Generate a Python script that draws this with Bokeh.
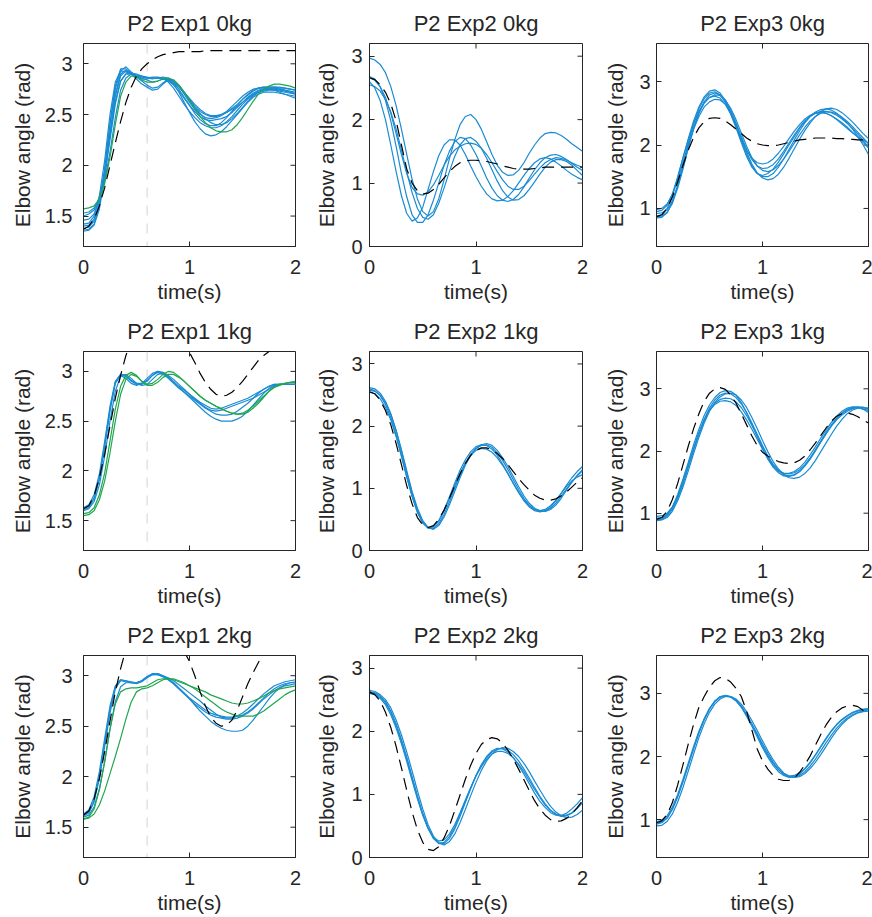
from bokeh.plotting import figure
from bokeh.layouts import column, row
from bokeh.models import Range1d, FixedTicker, Span
from bokeh.embed import file_html
from bokeh.resources import INLINE

# ---------------- data ----------------
time_s = [0.00, 0.05, 0.10, 0.15, 0.20, 0.25, 0.30, 0.35, 0.40, 0.45,
          0.50, 0.55, 0.60, 0.65, 0.70, 0.75, 0.80, 0.85, 0.90, 0.95,
          1.00, 1.05, 1.10, 1.15, 1.20, 1.25, 1.30, 1.35, 1.40, 1.45,
          1.50, 1.55, 1.60, 1.65, 1.70, 1.75, 1.80, 1.85, 1.90, 1.95,
          2.00]

panel_titles = ["P2 Exp1 0kg", "P2 Exp2 0kg", "P2 Exp3 0kg",
                "P2 Exp1 1kg", "P2 Exp2 1kg", "P2 Exp3 1kg",
                "P2 Exp1 2kg", "P2 Exp2 2kg", "P2 Exp3 2kg"]
x_label = "time(s)"
y_label = "Elbow angle (rad)"
x_limits = (0, 2)
x_ticks = [0, 1, 2]
x_tick_labels = ["0", "1", "2"]
y_limits = [(1.2, 3.2), (0.0, 3.2), (0.4, 3.6)]          # per experiment column
y_ticks = [[1.5, 2.0, 2.5, 3.0], [0, 1, 2, 3], [1, 2, 3]]
y_tick_labels = [["1.5", "2", "2.5", "3"], ["0", "1", "2", "3"], ["1", "2", "3"]]
event_time = 0.6   # grey dashed marker in Exp1 panels

# Exp1 0kg
exp1_0kg_blue = [
    [1.36,1.37,1.42,1.60,1.95,2.40,2.75,2.93,2.97,2.92, 2.88,2.86,2.84,2.82,2.83,2.85,2.84,2.80,2.72,2.62,
     2.52,2.43,2.36,2.31,2.29,2.30,2.33,2.38,2.44,2.50, 2.56,2.62,2.67,2.70,2.72,2.72,2.72,2.71,2.70,2.68, 2.66],
    [1.42,1.43,1.50,1.70,2.05,2.50,2.82,2.93,2.92,2.90, 2.88,2.87,2.86,2.87,2.87,2.86,2.82,2.76,2.68,2.60,
     2.53,2.47,2.42,2.39,2.37,2.37,2.39,2.43,2.48,2.54, 2.60,2.65,2.69,2.72,2.73,2.74,2.74,2.73,2.72,2.71, 2.70],
    [1.50,1.52,1.56,1.68,1.90,2.25,2.60,2.83,2.90,2.90, 2.87,2.83,2.79,2.76,2.77,2.81,2.85,2.84,2.79,2.72,
     2.65,2.58,2.53,2.50,2.48,2.48,2.50,2.53,2.58,2.63, 2.68,2.72,2.75,2.76,2.77,2.77,2.77,2.76,2.76,2.75, 2.74],
    [1.38,1.39,1.45,1.62,1.92,2.32,2.68,2.88,2.93,2.91, 2.89,2.88,2.87,2.86,2.86,2.86,2.85,2.81,2.75,2.67,
     2.59,2.51,2.45,2.41,2.39,2.39,2.42,2.47,2.53,2.59, 2.65,2.70,2.74,2.76,2.76,2.76,2.75,2.74,2.73,2.72, 2.71],
    [1.46,1.47,1.52,1.66,1.93,2.30,2.63,2.83,2.90,2.90, 2.87,2.85,2.85,2.86,2.86,2.85,2.83,2.79,2.73,2.66,
     2.59,2.53,2.48,2.45,2.44,2.45,2.46,2.48,2.52,2.57, 2.62,2.67,2.71,2.74,2.75,2.75,2.74,2.72,2.70,2.69, 2.68],
    [1.53,1.54,1.58,1.67,1.85,2.13,2.47,2.74,2.86,2.90, 2.90,2.88,2.86,2.85,2.86,2.87,2.86,2.83,2.78,2.71,
     2.64,2.57,2.51,2.46,2.42,2.40,2.40,2.42,2.46,2.51, 2.57,2.63,2.68,2.72,2.74,2.75,2.75,2.75,2.74,2.73, 2.72],
    [1.35,1.36,1.41,1.57,1.88,2.30,2.70,2.90,2.94,2.90, 2.85,2.80,2.77,2.74,2.75,2.80,2.84,2.83,2.78,2.70,
     2.62,2.55,2.50,2.47,2.46,2.47,2.49,2.52,2.55,2.58, 2.62,2.66,2.70,2.73,2.75,2.76,2.76,2.75,2.74,2.72, 2.70],
    [1.40,1.41,1.47,1.64,1.97,2.42,2.78,2.95,2.95,2.91, 2.88,2.87,2.86,2.86,2.86,2.85,2.84,2.81,2.77,2.72,
     2.66,2.60,2.55,2.51,2.49,2.49,2.50,2.52,2.56,2.60, 2.65,2.69,2.73,2.76,2.77,2.77,2.77,2.77,2.76,2.75, 2.74],
]
exp1_0kg_green = [
    [1.57,1.58,1.60,1.67,1.82,2.08,2.40,2.68,2.82,2.88, 2.87,2.84,2.82,2.82,2.83,2.85,2.86,2.84,2.79,2.72,
     2.64,2.56,2.48,2.42,2.37,2.34,2.33,2.33,2.35,2.40, 2.47,2.55,2.63,2.70,2.75,2.78,2.80,2.80,2.79,2.78, 2.76],
]
exp1_0kg_model = [1.37,1.40,1.47,1.60,1.78,2.00,2.22,2.43,2.62,2.77, 2.88,2.95,3.00,3.04,3.07,3.09,3.10,3.11,3.12,3.12,
                  3.12,3.12,3.12,3.13,3.13,3.13,3.13,3.13,3.13,3.13, 3.13,3.13,3.13,3.13,3.13,3.13,3.13,3.13,3.13,3.13, 3.13]

# Exp2 0kg
exp2_0kg_blue = [
    [2.60,2.50,2.30,2.00,1.60,1.18,0.80,0.52,0.40,0.45, 0.62,0.90,1.18,1.43,1.60,1.68,1.68,1.60,1.45,1.27,
     1.10,0.95,0.83,0.75,0.72,0.73,0.79,0.88,1.00,1.12, 1.23,1.32,1.38,1.40,1.38,1.33,1.27,1.20,1.14,1.09, 1.05],
    [2.68,2.64,2.52,2.30,1.98,1.58,1.15,0.78,0.50,0.38, 0.38,0.50,0.73,1.00,1.28,1.50,1.65,1.72,1.70,1.60,
     1.45,1.27,1.08,0.92,0.80,0.73,0.71,0.74,0.82,0.94, 1.08,1.21,1.32,1.40,1.44,1.45,1.42,1.37,1.31,1.25, 1.20],
    [2.97,2.94,2.87,2.74,2.52,2.22,1.85,1.45,1.06,0.75, 0.55,0.48,0.55,0.75,1.05,1.38,1.68,1.92,2.05,2.08,
     2.00,1.85,1.65,1.45,1.28,1.17,1.12,1.13,1.20,1.32, 1.47,1.60,1.71,1.78,1.80,1.79,1.75,1.69,1.62,1.56, 1.50],
    [2.66,2.62,2.52,2.35,2.10,1.78,1.45,1.15,0.93,0.83, 0.81,0.86,0.97,1.12,1.28,1.42,1.52,1.58,1.62,1.63,
     1.61,1.55,1.45,1.32,1.18,1.05,0.95,0.90,0.90,0.95, 1.04,1.14,1.24,1.32,1.37,1.40,1.39,1.36,1.32,1.28, 1.25],
    [2.55,2.52,2.45,2.32,2.12,1.85,1.52,1.17,0.85,0.60, 0.46,0.43,0.50,0.68,0.92,1.18,1.42,1.60,1.70,1.72,
     1.66,1.55,1.39,1.21,1.03,0.88,0.78,0.73,0.74,0.80, 0.90,1.02,1.14,1.25,1.33,1.37,1.37,1.34,1.28,1.20, 1.12],
]
exp2_0kg_model = [2.66,2.63,2.55,2.43,2.25,1.98,1.60,1.22,1.00,0.88, 0.83,0.84,0.90,0.98,1.08,1.18,1.26,1.32,1.35,1.36,
                  1.36,1.35,1.34,1.32,1.30,1.27,1.25,1.23,1.22,1.22, 1.22,1.23,1.24,1.25,1.25,1.25,1.25,1.25,1.25,1.25, 1.25]

# Exp3 0kg
exp3_0kg_blue = [
    [0.88,0.90,1.00,1.20,1.48,1.80,2.10,2.38,2.60,2.76, 2.85,2.87,2.82,2.70,2.52,2.30,2.07,1.85,1.67,1.55,
     1.50,1.50,1.55,1.65,1.78,1.93,2.08,2.22,2.35,2.45, 2.52,2.56,2.57,2.55,2.50,2.43,2.35,2.25,2.13,2.00, 1.85],
    [0.95,0.97,1.05,1.23,1.50,1.80,2.08,2.33,2.53,2.67, 2.75,2.77,2.74,2.64,2.49,2.30,2.10,1.92,1.79,1.72,
     1.70,1.72,1.78,1.87,1.98,2.10,2.22,2.32,2.41,2.47, 2.51,2.52,2.50,2.46,2.40,2.33,2.26,2.19,2.13,2.08, 2.03],
    [0.85,0.86,0.93,1.10,1.37,1.70,2.03,2.33,2.57,2.73, 2.82,2.84,2.79,2.67,2.49,2.27,2.04,1.82,1.65,1.55,
     1.52,1.55,1.62,1.73,1.86,2.00,2.13,2.26,2.37,2.45, 2.50,2.53,2.53,2.51,2.47,2.41,2.34,2.26,2.17,2.07, 1.97],
    [0.92,0.93,0.98,1.12,1.35,1.65,1.97,2.27,2.50,2.66, 2.75,2.79,2.78,2.71,2.58,2.40,2.19,1.98,1.80,1.67,
     1.60,1.58,1.61,1.68,1.78,1.90,2.03,2.16,2.28,2.38, 2.45,2.50,2.52,2.52,2.49,2.44,2.37,2.29,2.20,2.11, 2.02],
    [0.98,1.00,1.07,1.22,1.45,1.73,2.00,2.25,2.45,2.60, 2.68,2.72,2.71,2.64,2.51,2.33,2.13,1.93,1.77,1.67,
     1.63,1.64,1.69,1.78,1.90,2.03,2.16,2.28,2.38,2.46, 2.50,2.51,2.50,2.46,2.41,2.35,2.28,2.20,2.12,2.04, 1.95],
    [0.87,0.88,0.94,1.08,1.32,1.62,1.95,2.25,2.50,2.68, 2.79,2.82,2.79,2.70,2.55,2.35,2.12,1.89,1.70,1.56,
     1.48,1.45,1.47,1.54,1.65,1.79,1.94,2.09,2.23,2.35, 2.45,2.53,2.57,2.58,2.56,2.51,2.44,2.36,2.27,2.18, 2.10],
]
exp3_0kg_model = [0.87,0.90,1.00,1.18,1.42,1.68,1.92,2.12,2.27,2.37, 2.42,2.43,2.42,2.38,2.32,2.25,2.18,2.11,2.06,2.02,
                  2.00,1.99,1.99,2.00,2.02,2.04,2.06,2.08,2.09,2.10, 2.11,2.11,2.11,2.11,2.10,2.10,2.09,2.09,2.08,2.08, 2.08]

# Exp1 1kg
exp1_1kg_blue = [
    [1.63,1.66,1.76,1.97,2.30,2.65,2.90,2.97,2.95,2.90, 2.87,2.87,2.90,2.96,3.00,2.99,2.96,2.92,2.87,2.82,
     2.77,2.72,2.68,2.64,2.61,2.60,2.61,2.63,2.65,2.67, 2.69,2.71,2.73,2.76,2.79,2.82,2.85,2.87,2.87,2.87, 2.87],
    [1.61,1.63,1.72,1.92,2.24,2.60,2.88,2.96,2.93,2.88, 2.86,2.88,2.93,2.98,3.00,2.98,2.94,2.89,2.84,2.79,
     2.74,2.69,2.64,2.59,2.55,2.52,2.50,2.50,2.50,2.52, 2.55,2.60,2.66,2.72,2.78,2.83,2.86,2.87,2.87,2.87, 2.87],
    [1.62,1.64,1.73,1.93,2.26,2.62,2.89,2.97,2.96,2.91, 2.88,2.88,2.91,2.96,2.99,2.97,2.93,2.88,2.83,2.79,
     2.75,2.71,2.67,2.63,2.60,2.57,2.56,2.56,2.57,2.60, 2.64,2.68,2.73,2.78,2.82,2.85,2.87,2.87,2.87,2.87, 2.87],
    [1.60,1.62,1.69,1.86,2.15,2.50,2.80,2.95,2.97,2.93, 2.88,2.86,2.87,2.92,2.97,2.98,2.95,2.90,2.85,2.81,
     2.77,2.73,2.69,2.66,2.63,2.62,2.63,2.65,2.67,2.69, 2.71,2.73,2.76,2.79,2.82,2.85,2.87,2.87,2.87,2.87, 2.87],
]
exp1_1kg_green = [
    [1.57,1.58,1.63,1.76,1.98,2.30,2.62,2.85,2.96,2.99, 2.96,2.90,2.87,2.88,2.92,2.97,3.00,2.99,2.95,2.90,
     2.85,2.80,2.75,2.71,2.68,2.65,2.63,2.60,2.58,2.57, 2.57,2.59,2.63,2.68,2.74,2.80,2.84,2.87,2.88,2.89, 2.90],
    [1.55,1.56,1.60,1.71,1.90,2.18,2.50,2.77,2.92,2.97, 2.95,2.90,2.86,2.86,2.89,2.94,2.97,2.97,2.94,2.90,
     2.85,2.80,2.75,2.71,2.68,2.65,2.62,2.60,2.58,2.57, 2.58,2.61,2.65,2.70,2.75,2.80,2.84,2.86,2.88,2.89, 2.89],
]
exp1_1kg_model = [1.62,1.65,1.75,1.93,2.17,2.45,2.73,2.96,3.16,3.30, 3.42,3.50,3.55,3.56,3.54,3.50,3.44,3.38,3.31,3.25,
                  3.19,3.09,2.98,2.89,2.82,2.77,2.75,2.76,2.79,2.84, 2.90,2.97,3.04,3.11,3.16,3.20,3.24,3.27,3.30,3.32, 3.34]

# Exp2 1kg
exp2_1kg_blue = [
    [2.60,2.57,2.49,2.35,2.14,1.86,1.53,1.19,0.87,0.61, 0.44,0.36,0.38,0.48,0.65,0.86,1.08,1.29,1.46,1.59,
     1.67,1.70,1.69,1.63,1.53,1.39,1.24,1.08,0.93,0.80, 0.70,0.64,0.62,0.64,0.70,0.80,0.92,1.05,1.17,1.27, 1.35],
    [2.62,2.60,2.53,2.40,2.20,1.93,1.60,1.25,0.92,0.65, 0.46,0.36,0.35,0.43,0.58,0.78,1.00,1.21,1.40,1.55,
     1.64,1.69,1.70,1.66,1.57,1.45,1.30,1.14,0.98,0.84, 0.73,0.66,0.63,0.63,0.68,0.76,0.87,0.99,1.10,1.20, 1.28],
    [2.55,2.52,2.44,2.30,2.10,1.83,1.51,1.18,0.87,0.62, 0.45,0.37,0.38,0.47,0.63,0.83,1.04,1.24,1.41,1.53,
     1.61,1.64,1.63,1.58,1.49,1.37,1.23,1.08,0.94,0.81, 0.72,0.66,0.64,0.66,0.72,0.81,0.92,1.03,1.12,1.18, 1.22],
    [2.58,2.56,2.50,2.38,2.19,1.93,1.62,1.28,0.95,0.68, 0.48,0.37,0.34,0.40,0.54,0.73,0.95,1.17,1.37,1.53,
     1.64,1.70,1.72,1.69,1.61,1.49,1.35,1.19,1.03,0.88, 0.76,0.68,0.64,0.63,0.66,0.73,0.84,0.97,1.10,1.21, 1.30],
]
exp2_1kg_model = [2.55,2.52,2.42,2.25,2.02,1.72,1.38,1.04,0.75,0.53, 0.41,0.37,0.40,0.50,0.65,0.84,1.04,1.23,1.40,1.53,
                  1.61,1.65,1.65,1.62,1.56,1.48,1.38,1.27,1.16,1.06, 0.97,0.89,0.84,0.81,0.81,0.83,0.88,0.94,1.02,1.10, 1.17]

# Exp3 1kg
exp3_1kg_blue = [
    [0.90,0.91,0.97,1.10,1.30,1.55,1.82,2.10,2.35,2.57, 2.74,2.86,2.94,2.97,2.96,2.90,2.78,2.62,2.43,2.23,
     2.04,1.87,1.74,1.65,1.60,1.59,1.61,1.67,1.76,1.88, 2.02,2.16,2.30,2.42,2.53,2.61,2.67,2.70,2.71,2.70, 2.67],
    [0.95,0.96,1.00,1.10,1.27,1.50,1.77,2.04,2.29,2.50, 2.66,2.77,2.83,2.85,2.84,2.79,2.70,2.57,2.41,2.24,
     2.07,1.91,1.78,1.69,1.64,1.63,1.65,1.70,1.78,1.89, 2.02,2.15,2.28,2.40,2.50,2.58,2.64,2.68,2.70,2.70, 2.68],
    [0.88,0.89,0.93,1.03,1.20,1.42,1.68,1.96,2.22,2.45, 2.64,2.78,2.87,2.92,2.93,2.90,2.82,2.70,2.54,2.36,
     2.17,1.99,1.83,1.71,1.62,1.57,1.56,1.58,1.64,1.73, 1.85,1.99,2.13,2.27,2.40,2.51,2.60,2.66,2.69,2.70, 2.69],
    [0.92,0.93,0.98,1.09,1.27,1.50,1.76,2.03,2.28,2.49, 2.65,2.75,2.80,2.81,2.79,2.73,2.63,2.50,2.35,2.19,
     2.03,1.88,1.76,1.68,1.64,1.64,1.67,1.73,1.82,1.94, 2.07,2.21,2.34,2.46,2.56,2.64,2.69,2.71,2.70,2.67, 2.62],
    [0.89,0.90,0.95,1.06,1.24,1.47,1.74,2.02,2.28,2.51, 2.69,2.82,2.90,2.93,2.92,2.86,2.76,2.62,2.45,2.27,
     2.09,1.92,1.78,1.68,1.62,1.60,1.62,1.67,1.76,1.87, 2.00,2.14,2.28,2.41,2.52,2.60,2.66,2.69,2.70,2.68, 2.65],
]
exp3_1kg_model = [0.90,0.93,1.03,1.22,1.48,1.78,2.08,2.36,2.60,2.80, 2.93,3.00,3.02,2.99,2.90,2.77,2.60,2.42,2.24,2.09,
                  1.98,1.92,1.87,1.83,1.81,1.80,1.81,1.85,1.92,2.02, 2.13,2.25,2.37,2.48,2.56,2.60,2.61,2.59,2.55,2.50, 2.45]

# Exp1 2kg
exp1_2kg_blue = [
    [1.63,1.67,1.80,2.05,2.38,2.70,2.90,2.96,2.95,2.93, 2.93,2.95,2.99,3.02,3.02,3.00,2.98,2.95,2.91,2.87,
     2.83,2.79,2.75,2.70,2.66,2.62,2.59,2.58,2.58,2.60, 2.63,2.67,2.72,2.77,2.82,2.86,2.90,2.92,2.94,2.95, 2.96],
    [1.61,1.64,1.75,1.98,2.30,2.63,2.87,2.95,2.94,2.93, 2.92,2.94,2.98,3.01,3.01,2.99,2.96,2.92,2.87,2.82,
     2.77,2.71,2.65,2.60,2.55,2.51,2.48,2.46,2.45,2.45, 2.46,2.50,2.56,2.63,2.70,2.77,2.83,2.88,2.91,2.93, 2.94],
    [1.62,1.65,1.77,2.01,2.34,2.67,2.89,2.96,2.95,2.94, 2.93,2.95,2.99,3.02,3.02,3.00,2.97,2.93,2.88,2.83,
     2.78,2.74,2.70,2.66,2.63,2.61,2.60,2.59,2.59,2.60, 2.61,2.64,2.68,2.73,2.78,2.83,2.87,2.90,2.92,2.93, 2.93],
    [1.60,1.62,1.70,1.88,2.15,2.47,2.74,2.89,2.93,2.93, 2.93,2.95,2.99,3.01,3.01,2.99,2.96,2.92,2.87,2.82,
     2.77,2.72,2.68,2.64,2.61,2.59,2.58,2.57,2.57,2.58, 2.60,2.63,2.67,2.72,2.77,2.81,2.85,2.88,2.90,2.91, 2.92],
]
exp1_2kg_green = [
    [1.58,1.59,1.63,1.72,1.86,2.03,2.20,2.38,2.57,2.74, 2.84,2.87,2.88,2.90,2.93,2.96,2.97,2.97,2.95,2.93,
     2.90,2.87,2.83,2.79,2.75,2.71,2.67,2.64,2.62,2.60, 2.60,2.60,2.60,2.62,2.65,2.69,2.73,2.77,2.81,2.84, 2.86],
    [1.58,1.60,1.68,1.87,2.15,2.47,2.72,2.84,2.87,2.88, 2.88,2.89,2.90,2.93,2.96,2.97,2.97,2.96,2.94,2.92,
     2.90,2.88,2.86,2.84,2.81,2.79,2.77,2.75,2.73,2.72, 2.72,2.73,2.75,2.77,2.80,2.83,2.85,2.87,2.88,2.89, 2.90],
]
exp1_2kg_model = [1.62,1.66,1.78,1.98,2.25,2.55,2.84,3.07,3.26,3.42, 3.55,3.65,3.70,3.71,3.68,3.62,3.53,3.43,3.33,3.24,
                  3.14,3.00,2.84,2.70,2.59,2.53,2.50,2.51,2.56,2.66, 2.79,2.92,3.03,3.13,3.22,3.30,3.37,3.43,3.48,3.51, 3.53]

# Exp2 2kg
exp2_2kg_blue = [
    [2.63,2.61,2.56,2.47,2.32,2.12,1.87,1.59,1.28,0.98, 0.70,0.47,0.31,0.23,0.24,0.33,0.48,0.68,0.89,1.10,
     1.30,1.46,1.59,1.67,1.72,1.73,1.70,1.63,1.53,1.40, 1.26,1.11,0.97,0.85,0.75,0.69,0.66,0.67,0.71,0.78, 0.87],
    [2.60,2.58,2.52,2.42,2.26,2.05,1.80,1.52,1.22,0.93, 0.67,0.46,0.32,0.26,0.28,0.37,0.52,0.71,0.91,1.11,
     1.29,1.44,1.56,1.64,1.68,1.68,1.65,1.58,1.48,1.36, 1.22,1.08,0.95,0.83,0.74,0.68,0.65,0.66,0.70,0.78, 0.88],
    [2.65,2.63,2.58,2.50,2.37,2.18,1.94,1.67,1.37,1.06, 0.77,0.52,0.34,0.23,0.20,0.25,0.37,0.55,0.76,0.98,
     1.19,1.38,1.53,1.64,1.71,1.74,1.73,1.68,1.60,1.49, 1.36,1.21,1.07,0.93,0.81,0.72,0.66,0.63,0.64,0.68, 0.75],
    [2.62,2.60,2.54,2.45,2.30,2.09,1.84,1.56,1.25,0.95, 0.68,0.46,0.30,0.22,0.22,0.30,0.45,0.65,0.87,1.09,
     1.30,1.47,1.60,1.69,1.73,1.72,1.67,1.58,1.46,1.32, 1.17,1.02,0.89,0.79,0.71,0.67,0.67,0.70,0.77,0.85, 0.95],
]
exp2_2kg_model = [2.62,2.58,2.48,2.30,2.06,1.76,1.42,1.06,0.72,0.44, 0.24,0.13,0.11,0.17,0.31,0.50,0.74,0.99,1.24,1.46,
                  1.65,1.79,1.87,1.90,1.88,1.81,1.70,1.56,1.40,1.23, 1.06,0.90,0.77,0.67,0.60,0.57,0.58,0.62,0.69,0.79, 0.90]

# Exp3 2kg
exp3_2kg_blue = [
    [0.93,0.95,1.02,1.16,1.36,1.60,1.86,2.12,2.37,2.58, 2.75,2.87,2.94,2.96,2.95,2.89,2.80,2.67,2.52,2.36,
     2.20,2.05,1.91,1.80,1.72,1.68,1.67,1.70,1.76,1.85, 1.96,2.09,2.22,2.34,2.45,2.54,2.61,2.66,2.70,2.72, 2.74],
    [0.97,0.99,1.06,1.20,1.40,1.64,1.90,2.16,2.40,2.60, 2.76,2.87,2.94,2.96,2.94,2.88,2.78,2.64,2.48,2.31,
     2.14,1.99,1.86,1.76,1.70,1.67,1.68,1.72,1.80,1.90, 2.02,2.15,2.28,2.40,2.50,2.58,2.64,2.69,2.72,2.74, 2.75],
    [0.90,0.91,0.97,1.09,1.28,1.51,1.77,2.04,2.30,2.52, 2.70,2.83,2.91,2.95,2.95,2.91,2.83,2.71,2.57,2.41,
     2.25,2.09,1.95,1.83,1.74,1.69,1.67,1.68,1.73,1.81, 1.91,2.03,2.16,2.29,2.41,2.51,2.59,2.65,2.69,2.71, 2.72],
    [0.94,0.96,1.03,1.17,1.37,1.61,1.87,2.13,2.38,2.59, 2.76,2.88,2.95,2.97,2.95,2.89,2.79,2.65,2.50,2.34,
     2.17,2.02,1.89,1.79,1.72,1.69,1.70,1.74,1.81,1.91, 2.03,2.16,2.29,2.41,2.51,2.59,2.65,2.70,2.73,2.75, 2.76],
]
exp3_2kg_model = [0.95,0.98,1.08,1.27,1.55,1.87,2.20,2.51,2.78,2.95, 3.10,3.20,3.25,3.24,3.18,3.08,2.95,2.72,2.42,2.12,
                  1.93,1.80,1.70,1.64,1.62,1.62,1.66,1.75,1.87,2.01, 2.18,2.35,2.50,2.62,2.71,2.77,2.80,2.81,2.79,2.73, 2.65]

panel_blue = [exp1_0kg_blue, exp2_0kg_blue, exp3_0kg_blue,
              exp1_1kg_blue, exp2_1kg_blue, exp3_1kg_blue,
              exp1_2kg_blue, exp2_2kg_blue, exp3_2kg_blue]
panel_green = [exp1_0kg_green, [], [], exp1_1kg_green, [], [], exp1_2kg_green, [], []]
panel_model = [exp1_0kg_model, exp2_0kg_model, exp3_0kg_model,
               exp1_1kg_model, exp2_1kg_model, exp3_1kg_model,
               exp1_2kg_model, exp2_2kg_model, exp3_2kg_model]

for k in range(9):
    for s in panel_blue[k] + panel_green[k] + [panel_model[k]]:
        if len(s) != len(time_s):
            raise ValueError("panel %d series length %d" % (k, len(s)))

# ---------------- style / layout ----------------
FONT = "Liberation Sans"
TXT = "#262626"
BLUE = "#1a8bd2"
GREEN = "#1fa64f"
TICK_FS = "20px"
LABEL_FS = "21px"
TITLE_FS = "22px"

col_widths = [305, 291, 276]
left_borders = [83, 64, 60]
right_borders = [10, 14, 4]
ytick_standoff = [11, 7, 6]
ylabel_standoff = [8, 10, 9]

row_heights = [305, 304, 307]
top_borders = [43, 46, 46]
bottom_borders = [58, 57, 59]

rows = []
for r in range(3):
    row_figs = []
    for c in range(3):
        k = r * 3 + c
        lo, hi = y_limits[c]
        p = figure(width=col_widths[c], height=row_heights[r], title=panel_titles[k],
                   x_range=Range1d(*x_limits), y_range=Range1d(lo, hi),
                   output_backend="svg", toolbar_location=None,
                   min_border_left=left_borders[c], min_border_right=right_borders[c],
                   min_border_top=top_borders[r], min_border_bottom=bottom_borders[r],
                   x_axis_label=x_label, y_axis_label=y_label)
        p.grid.visible = False
        p.outline_line_color = TXT
        p.outline_line_alpha = 1
        p.outline_line_width = 1
        p.background_fill_color = "white"
        p.border_fill_color = "white"

        p.title.align = "center"
        p.title.text_font = FONT
        p.title.text_font_size = TITLE_FS
        p.title.text_font_style = "normal"
        p.title.text_color = TXT
        p.title.standoff = 15

        xa = p.xaxis[0]
        xa.ticker = FixedTicker(ticks=x_ticks)
        xa.major_label_overrides = {t: l for t, l in zip(x_ticks, x_tick_labels)}
        ya = p.yaxis[0]
        ya.ticker = FixedTicker(ticks=y_ticks[c])
        ya.major_label_overrides = {t: l for t, l in zip(y_ticks[c], y_tick_labels[c])}
        for ax in (xa, ya):
            ax.major_tick_in = 5
            ax.major_tick_out = 0
            ax.minor_tick_line_color = None
            ax.major_tick_line_color = TXT
            ax.axis_line_color = TXT
            ax.major_label_text_font = FONT
            ax.major_label_text_font_size = TICK_FS
            ax.major_label_text_color = TXT
            ax.axis_label_text_font = FONT
            ax.axis_label_text_font_size = LABEL_FS
            ax.axis_label_text_font_style = "normal"
            ax.axis_label_text_color = TXT
        xa.major_label_standoff = 13
        xa.axis_label_standoff = 3
        ya.major_label_standoff = ytick_standoff[c]
        ya.axis_label_standoff = ylabel_standoff[c]

        # inward ticks on the top and right edges of the box
        p.ray(x=x_ticks, y=[hi] * len(x_ticks), length=5, angle=-90, angle_units="deg",
              length_units="screen", line_color=TXT, line_width=1)
        p.ray(x=[x_limits[1]] * len(y_ticks[c]), y=y_ticks[c], length=5, angle=180,
              angle_units="deg", length_units="screen", line_color=TXT, line_width=1)

        if c == 0:
            p.add_layout(Span(location=event_time, dimension="height", line_color="#d2d2d2",
                              line_dash="10 8", line_width=1, level="underlay"))

        for ys in panel_blue[k]:
            p.line(time_s, ys, line_color=BLUE, line_width=1.2)
        for ys in panel_green[k]:
            p.line(time_s, ys, line_color=GREEN, line_width=1.2)
        p.line(time_s, panel_model[k], line_color="black", line_width=1.2, line_dash="12 7")
        row_figs.append(p)
    rows.append(row(*row_figs))

layout = column(*rows)
open("out.html", "w").write(file_html(layout, INLINE))
